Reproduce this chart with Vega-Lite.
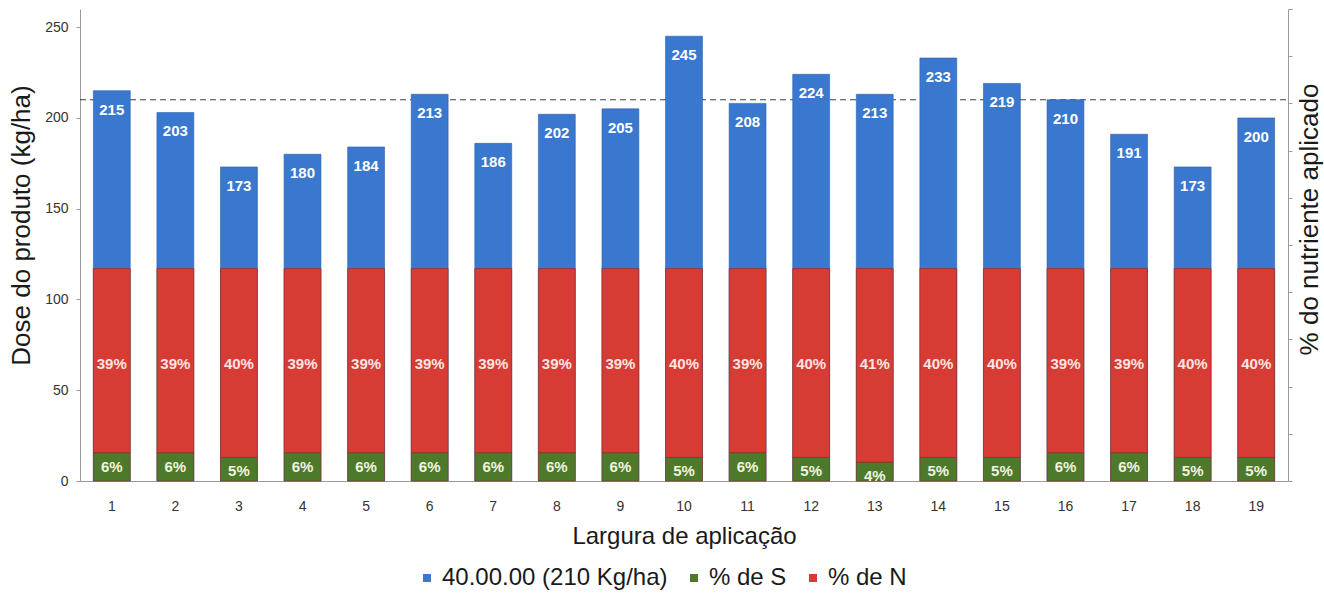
{
  "$schema": "https://vega.github.io/schema/vega-lite/v6.json",
  "width": 1208,
  "height": 472,
  "autosize": "none",
  "padding": {"left": 80, "top": 9, "right": 36, "bottom": 118},
  "background": "white",
  "config": {
    "view": {"stroke": null},
    "font": "Liberation Sans",
    "axis": {"labelFont": "Liberation Sans", "titleFont": "Liberation Sans", "domainColor": "#9a9a9a", "tickColor": "#9a9a9a", "labelColor": "#333333", "titleColor": "#1a1a1a", "titleFontWeight": "normal", "grid": false}
  },
  "datasets": {
    "dose": [
      {"pos": 1, "dose": 215}, {"pos": 2, "dose": 203}, {"pos": 3, "dose": 173}, {"pos": 4, "dose": 180},
      {"pos": 5, "dose": 184}, {"pos": 6, "dose": 213}, {"pos": 7, "dose": 186}, {"pos": 8, "dose": 202},
      {"pos": 9, "dose": 205}, {"pos": 10, "dose": 245}, {"pos": 11, "dose": 208}, {"pos": 12, "dose": 224},
      {"pos": 13, "dose": 213}, {"pos": 14, "dose": 233}, {"pos": 15, "dose": 219}, {"pos": 16, "dose": 210},
      {"pos": 17, "dose": 191}, {"pos": 18, "dose": 173}, {"pos": 19, "dose": 200}
    ],
    "pct": [
      {"pos": 1, "serie": "% de S", "pct": 0.06}, {"pos": 1, "serie": "% de N", "pct": 0.39},
      {"pos": 2, "serie": "% de S", "pct": 0.06}, {"pos": 2, "serie": "% de N", "pct": 0.39},
      {"pos": 3, "serie": "% de S", "pct": 0.05}, {"pos": 3, "serie": "% de N", "pct": 0.40},
      {"pos": 4, "serie": "% de S", "pct": 0.06}, {"pos": 4, "serie": "% de N", "pct": 0.39},
      {"pos": 5, "serie": "% de S", "pct": 0.06}, {"pos": 5, "serie": "% de N", "pct": 0.39},
      {"pos": 6, "serie": "% de S", "pct": 0.06}, {"pos": 6, "serie": "% de N", "pct": 0.39},
      {"pos": 7, "serie": "% de S", "pct": 0.06}, {"pos": 7, "serie": "% de N", "pct": 0.39},
      {"pos": 8, "serie": "% de S", "pct": 0.06}, {"pos": 8, "serie": "% de N", "pct": 0.39},
      {"pos": 9, "serie": "% de S", "pct": 0.06}, {"pos": 9, "serie": "% de N", "pct": 0.39},
      {"pos": 10, "serie": "% de S", "pct": 0.05}, {"pos": 10, "serie": "% de N", "pct": 0.40},
      {"pos": 11, "serie": "% de S", "pct": 0.06}, {"pos": 11, "serie": "% de N", "pct": 0.39},
      {"pos": 12, "serie": "% de S", "pct": 0.05}, {"pos": 12, "serie": "% de N", "pct": 0.40},
      {"pos": 13, "serie": "% de S", "pct": 0.04}, {"pos": 13, "serie": "% de N", "pct": 0.41},
      {"pos": 14, "serie": "% de S", "pct": 0.05}, {"pos": 14, "serie": "% de N", "pct": 0.40},
      {"pos": 15, "serie": "% de S", "pct": 0.05}, {"pos": 15, "serie": "% de N", "pct": 0.40},
      {"pos": 16, "serie": "% de S", "pct": 0.06}, {"pos": 16, "serie": "% de N", "pct": 0.39},
      {"pos": 17, "serie": "% de S", "pct": 0.06}, {"pos": 17, "serie": "% de N", "pct": 0.39},
      {"pos": 18, "serie": "% de S", "pct": 0.05}, {"pos": 18, "serie": "% de N", "pct": 0.40},
      {"pos": 19, "serie": "% de S", "pct": 0.05}, {"pos": 19, "serie": "% de N", "pct": 0.40}
    ],
    "ref": [{"alvo": 210}]
  },
  "encoding": {
    "x": {
      "field": "pos", "type": "ordinal",
      "scale": {"paddingInner": 0.42, "paddingOuter": 0.21},
      "axis": {"title": "Largura de aplicação", "labelAngle": 0, "ticks": false, "labelPadding": 18, "labelFontSize": 14, "titleFontSize": 24, "titlePadding": 11}
    }
  },
  "layer": [
    {
      "layer": [
        {
          "data": {"name": "ref"},
          "mark": {"type": "rule", "strokeDash": [6, 4], "color": "#404040", "strokeWidth": 1.2},
          "encoding": {"y": {"field": "alvo", "type": "quantitative"}, "x": {"value": 0}, "x2": {"value": 1208}}
        },
        {
          "data": {"name": "dose"},
          "mark": {"type": "bar", "stroke": "#2a5ea8", "strokeWidth": 0.6},
          "encoding": {
            "y": {
              "field": "dose", "type": "quantitative",
              "scale": {"domain": [0, 260], "nice": false},
              "axis": {"title": "Dose do produto (kg/ha)", "values": [0, 50, 100, 150, 200, 250], "tickSize": 4, "labelPadding": 8, "labelFontSize": 14, "titleFontSize": 26, "titlePadding": 10, "titleY": 216}
            },
            "color": {"datum": "40.00.00 (210 Kg/ha)", "type": "nominal"}
          }
        },
        {
          "data": {"name": "dose"},
          "mark": {"type": "text", "dy": 19, "color": "white", "fontWeight": "bold", "fontSize": 15, "baseline": "middle"},
          "encoding": {
            "y": {"field": "dose", "type": "quantitative"},
            "text": {"field": "dose", "type": "quantitative"}
          }
        }
      ]
    },
    {
      "data": {"name": "pct"},
      "layer": [
        {
          "mark": {"type": "bar", "stroke": "#8a2a25", "strokeWidth": 0.6},
          "encoding": {
            "y": {
              "field": "pct", "type": "quantitative", "stack": "zero",
              "scale": {"domain": [0, 1], "nice": false},
              "axis": {"orient": "right", "title": "% do nutriente aplicado", "labels": false, "values": [0, 0.1, 0.2, 0.3, 0.4, 0.5, 0.6, 0.7, 0.8, 0.9, 1], "tickSize": 4, "titleFontSize": 26, "titleAngle": 270, "titlePadding": 30, "titleY": 210}
            },
            "color": {
              "field": "serie", "type": "nominal",
              "scale": {"domain": ["40.00.00 (210 Kg/ha)", "% de S", "% de N"], "range": ["#3a78d0", "#4d7a2a", "#d63c34"]},
              "legend": {"title": null, "orient": "none", "direction": "horizontal", "legendX": 335, "legendY": 557, "symbolType": "square", "symbolSize": 64, "labelFontSize": 24, "labelLimit": 500, "labelColor": "#1a1a1a", "labelOffset": 3, "columnPadding": 14, "symbolStrokeWidth": 0}
            },
            "order": {"field": "serie", "sort": "descending"}
          }
        },
        {
          "mark": {"type": "text", "dy": 14, "color": "#f2f2e0", "fontWeight": "bold", "fontSize": 15, "baseline": "middle"},
          "encoding": {
            "y": {"field": "pct", "type": "quantitative", "stack": "zero"},
            "detail": {"field": "serie"},
            "order": {"field": "serie", "sort": "descending"},
            "text": {"condition": {"test": "datum.serie === '% de S'", "field": "pct", "type": "quantitative", "format": ".0%"}, "value": ""}
          }
        },
        {
          "mark": {"type": "text", "dy": 95, "color": "#fbe5e2", "fontWeight": "bold", "fontSize": 15, "baseline": "middle"},
          "encoding": {
            "y": {"field": "pct", "type": "quantitative", "stack": "zero"},
            "detail": {"field": "serie"},
            "order": {"field": "serie", "sort": "descending"},
            "text": {"condition": {"test": "datum.serie === '% de N'", "field": "pct", "type": "quantitative", "format": ".0%"}, "value": ""}
          }
        }
      ]
    }
  ],
  "resolve": {"scale": {"y": "independent"}}
}
